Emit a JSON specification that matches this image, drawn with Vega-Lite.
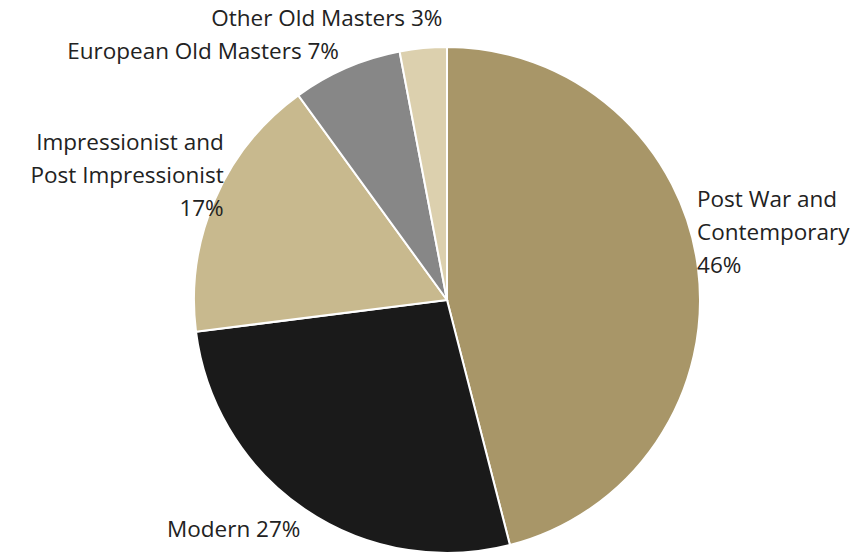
{
  "$schema": "https://vega.github.io/schema/vega-lite/v6.json",
  "autosize": "none",
  "width": 838,
  "height": 510,
  "padding": {"left": 28, "top": 45, "right": 0, "bottom": 0},
  "background": "white",
  "config": {"view": {"stroke": null}, "text": {"font": "Open Sans", "fontSize": 22.5, "fontWeight": 500, "color": "#222222", "lineBreak": "\n"}},
  "data": {"values": [
    {"cat": "Post War and Contemporary", "share": 46, "label": "Post War and\nContemporary\n46%"},
    {"cat": "Modern", "share": 27, "label": "Modern 27%"},
    {"cat": "Impressionist and Post Impressionist", "share": 17, "label": "Impressionist and\nPost Impressionist\n17%"},
    {"cat": "European Old Masters", "share": 7, "label": "European Old Masters 7%"},
    {"cat": "Other Old Masters", "share": 3, "label": "Other Old Masters 3%"}
  ]},
  "encoding": {
    "theta": {"field": "share", "type": "quantitative", "stack": true},
    "order": {"field": "share", "sort": "descending"}
  },
  "layer": [
    {
      "mark": {"type": "arc", "outerRadius": 253, "stroke": "white", "strokeWidth": 2},
      "encoding": {
        "color": {"field": "cat", "type": "nominal", "legend": null,
          "scale": {"domain": ["Post War and Contemporary", "Modern", "Impressionist and Post Impressionist", "European Old Masters", "Other Old Masters"],
                    "range": ["#a89668", "#1a1a1a", "#c8b98e", "#878787", "#dcd0ae"]}}
      }
    },
    {
      "mark": {"type": "text", "radius": 252, "align": "left", "baseline": "middle", "dy": -68, "lineHeight": 33, "lineBreak": "\n"},
      "encoding": {"text": {"condition": {"test": "datum.cat === 'Post War and Contemporary'", "field": "label"}, "value": ""}}
    },
    {
      "mark": {"type": "text", "radius": 275, "align": "right", "baseline": "middle", "dx": 8, "dy": 3},
      "encoding": {"text": {"condition": {"test": "datum.cat === 'Modern'", "field": "label"}, "value": ""}}
    },
    {
      "mark": {"type": "text", "radius": 252, "align": "right", "baseline": "middle", "dx": 8, "dy": -57, "lineHeight": 33, "lineBreak": "\n"},
      "encoding": {"text": {"condition": {"test": "datum.cat === 'Impressionist and Post Impressionist'", "field": "label"}, "value": ""}}
    },
    {
      "mark": {"type": "text", "radius": 272, "align": "right", "baseline": "middle", "dy": 2},
      "encoding": {"text": {"condition": {"test": "datum.cat === 'European Old Masters'", "field": "label"}, "value": ""}}
    },
    {
      "mark": {"type": "text", "radius": 283, "align": "right", "baseline": "middle", "dx": 22, "dy": 1},
      "encoding": {"text": {"condition": {"test": "datum.cat === 'Other Old Masters'", "field": "label"}, "value": ""}}
    }
  ]
}
